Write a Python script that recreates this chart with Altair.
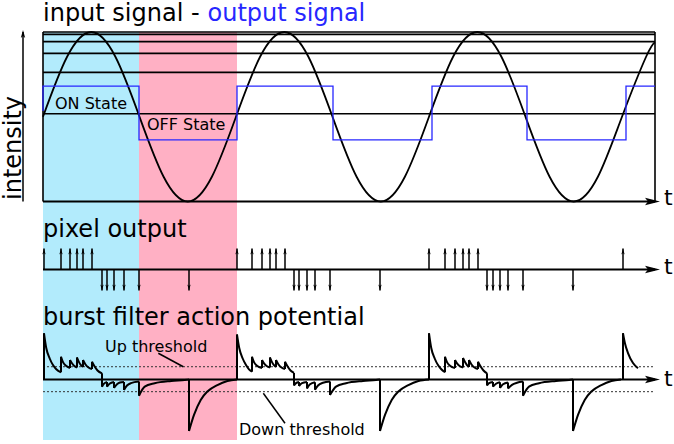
import altair as alt
import pandas as pd

# ---------------- data (time t: 0 = left edge of the panels, one input period = 193) -------------
SINE_T = [0, 24.1, 48.3, 72.4, 96.5, 120.6, 144.8, 168.9,
          193, 217.1, 241.3, 265.4, 289.5, 313.6, 337.8, 361.9,
          386, 410.1, 434.3, 458.4, 482.5, 506.6, 530.8, 554.9,
          579, 603.1, 612]
SINE_I = [0.5, 0.854, 1.0, 0.854, 0.5, 0.146, 0.0, 0.146,
          0.5, 0.854, 1.0, 0.854, 0.5, 0.146, 0.0, 0.146,
          0.5, 0.854, 1.0, 0.854, 0.5, 0.146, 0.0, 0.146,
          0.5, 0.854, 0.94]

OUT_T = [0, 0, 96, 194, 290, 389, 484, 583, 612]
OUT_I = [0.534, 0.681, 0.363, 0.681, 0.363, 0.681, 0.363, 0.681, 0.681]

LEVELS = [0.518, 0.762, 0.874, 0.943, 0.986, 1.0]
T_END = 612

BAND_T0 = [0, 96]
BAND_T1 = [96, 194]
BAND_NAME = ["ON", "OFF"]

UP_T = [1, 18, 27, 34, 40, 49, 194, 209, 219, 227, 233, 242,
        386, 402, 412, 420, 426, 435, 580]
DOWN_T = [59, 64, 71, 81, 96, 146, 251, 256, 264, 272, 287, 337,
          444, 450, 457, 465, 480, 530]

UP_THR = 0.213
DOWN_THR = -0.203

BURST_CURVES = [
    [(1, 0.77), (3.3, 0.52), (6.7, 0.35), (10, 0.24), (13.3, 0.17), (18, 0.12)],
    [(18, 0.38), (20, 0.29), (23, 0.23), (27, 0.19)],
    [(27, 0.325), (29, 0.27), (31, 0.23), (34, 0.2)],
    [(34, 0.367), (36, 0.29), (38, 0.24), (40, 0.21)],
    [(40, 0.325), (42.5, 0.25), (45.5, 0.2), (49, 0.175)],
    [(49, 0.297), (51.5, 0.22), (54.5, 0.15), (59, 0.103)],
    [(59, -0.12), (61, -0.07), (64, -0.04)],
    [(64, -0.12), (66.5, -0.07), (71, -0.04)],
    [(71, -0.14), (74, -0.08), (77, -0.05), (81, -0.04)],
    [(81, -0.175), (84, -0.1), (88, -0.06), (96, -0.035)],
    [(96, -0.27), (101.7, -0.12), (111.7, -0.063), (128.3, -0.025), (141.7, -0.008), (146, 0)],
    [(146, -0.858), (151, -0.59), (157.7, -0.34), (164.4, -0.2), (174.4, -0.092), (184.4, -0.025), (194, 0)],
    [(194, 0.75), (196.3, 0.52), (199.7, 0.35), (203, 0.24), (206, 0.17), (209, 0.13)],
    [(209, 0.38), (211, 0.29), (214, 0.23), (219, 0.19)],
    [(219, 0.325), (221, 0.27), (224, 0.22), (227, 0.2)],
    [(227, 0.367), (229, 0.29), (231, 0.24), (233, 0.21)],
    [(233, 0.325), (235.5, 0.25), (238.5, 0.2), (242, 0.175)],
    [(242, 0.297), (244.5, 0.22), (247.5, 0.15), (251, 0.11)],
    [(251, -0.1), (253, -0.06), (256, -0.04)],
    [(256, -0.11), (259, -0.06), (264, -0.04)],
    [(264, -0.15), (267, -0.08), (272, -0.045)],
    [(272, -0.17), (275, -0.1), (280, -0.055), (287, -0.035)],
    [(287, -0.26), (293, -0.12), (303, -0.063), (320, -0.025), (333, -0.008), (337, 0)],
    [(337, -0.858), (342, -0.59), (348.7, -0.34), (355.4, -0.2), (365.4, -0.092), (375.4, -0.025), (386, 0)],
    [(386, 0.77), (388.3, 0.52), (391.7, 0.35), (395, 0.24), (398.3, 0.17), (402, 0.12)],
    [(402, 0.38), (404, 0.29), (407, 0.23), (412, 0.19)],
    [(412, 0.325), (414, 0.27), (417, 0.22), (420, 0.2)],
    [(420, 0.36), (422, 0.29), (424, 0.24), (426, 0.21)],
    [(426, 0.325), (428.5, 0.25), (431.5, 0.2), (435, 0.175)],
    [(435, 0.297), (437.5, 0.22), (440.5, 0.15), (444, 0.103)],
    [(444, -0.1), (446, -0.06), (450, -0.04)],
    [(450, -0.12), (453, -0.07), (457, -0.045)],
    [(457, -0.14), (460, -0.08), (465, -0.05)],
    [(465, -0.15), (469, -0.09), (474, -0.055), (480, -0.035)],
    [(480, -0.27), (486, -0.12), (496, -0.063), (513, -0.025), (526, -0.008), (530, 0)],
    [(530, -0.858), (535, -0.59), (541.7, -0.34), (548.4, -0.2), (558.4, -0.092), (568.4, -0.025), (578, 0)],
    [(580, 0.77), (582, 0.6), (585, 0.44), (590, 0.275), (595, 0.187)],
]

# ---------------- scales ----------------
FONT = "DejaVu Sans"
BLUE = "#2727ff"
XS = alt.Scale(domain=[0, 613], range=[43, 656], nice=False, zero=False)
Y_TOP = alt.Scale(domain=[0, 1], range=[201.5, 32], nice=False, zero=False)
Y_PIX = alt.Scale(domain=[-1, 1], range=[290.5, 248.5], nice=False, zero=False)
Y_BUR = alt.Scale(domain=[-1, 1], range=[439.5, 319.5], nice=False, zero=False)

ARROW_R = "M1,0 L-1,-0.5 L-0.6,0 L-1,0.5 Z"
ARROW_U = "M0,-1 L-0.55,1 L0,0.5 L0.55,1 Z"
ARROW_D = "M0,1 L-0.55,-1 L0,-0.5 L0.55,-1 Z"


def X(f):
    return alt.X(f, type="quantitative", scale=XS, axis=None)


def Y(f, sc):
    return alt.Y(f, type="quantitative", scale=sc, axis=None)


def label(text, x, y, size, color="black", angle=0, align="left"):
    props = dict(text=text, font=FONT, fontSize=size, color=color, align=align,
                 baseline="alphabetic")
    if angle:
        props["angle"] = angle
    return alt.Chart(pd.DataFrame({"a": [0]})).mark_text(**props).encode(
        x=alt.value(x), y=alt.value(y))


# ---------------- tables ----------------
bands = pd.DataFrame({"t0": BAND_T0, "t1": BAND_T1, "state": BAND_NAME})
sine = pd.DataFrame({"t": SINE_T, "I": SINE_I, "k": range(len(SINE_T))})
out = pd.DataFrame({"t": OUT_T, "I": OUT_I, "k": range(len(OUT_T))})
levels = pd.DataFrame({"t0": 0, "t1": T_END, "I": LEVELS})
verticals = pd.DataFrame({"t": [0, T_END], "lo": 0, "hi": 1})
axis_line = pd.DataFrame({"t0": [0], "t1": [T_END], "v": [0]})
arrow_tip = pd.DataFrame({"t": [609.5], "v": [0]})
ups = pd.DataFrame({"t": UP_T, "base": 0, "tip": 1})
downs = pd.DataFrame({"t": DOWN_T, "base": 0, "tip": -1})
thr = pd.DataFrame({"t0": 0, "t1": T_END, "v": [UP_THR, DOWN_THR]})

rows, jumps = [], []
prev_end = None
for i, curve in enumerate(BURST_CURVES):
    t0, v0 = curve[0]
    vb = prev_end[1] if (prev_end is not None and abs(prev_end[0] - t0) < 1e-9) else 0
    jumps.append({"t": t0, "v0": vb, "v1": v0})
    for k, (t, v) in enumerate(curve):
        rows.append({"seg": i, "k": k, "t": t, "v": v})
    prev_end = curve[-1]
burst = pd.DataFrame(rows)
burst_jumps = pd.DataFrame(jumps)

# ---------------- layers ----------------
band_layer = alt.Chart(bands).mark_rect().encode(
    x=X("t0"), x2="t1", y=alt.value(32), y2=alt.value(440),
    color=alt.Color("state:N", scale=alt.Scale(domain=["ON", "OFF"],
                                               range=["#b2ebfc", "#ffb0c4"]), legend=None))

level_layer = alt.Chart(levels).mark_rule(color="black", strokeWidth=1.6).encode(
    x=X("t0"), x2="t1", y=Y("I", Y_TOP))
vert_layer = alt.Chart(verticals).mark_rule(color="black", strokeWidth=1.6).encode(
    x=X("t"), y=Y("lo", Y_TOP), y2="hi")
top_axis = alt.Chart(axis_line).mark_rule(color="black", strokeWidth=2).encode(
    x=X("t0"), x2="t1", y=Y("v", Y_TOP))
top_arrow = alt.Chart(arrow_tip).mark_point(shape=ARROW_R, size=225, filled=True,
                                            color="black", opacity=1).encode(
    x=X("t"), y=Y("v", Y_TOP))

sine_layer = alt.Chart(sine).mark_line(color="black", strokeWidth=1.8, interpolate="natural").encode(
    x=X("t"), y=Y("I", Y_TOP), order="k:Q")
out_layer = alt.Chart(out).mark_line(color=BLUE, strokeWidth=1.3, interpolate="step-after").encode(
    x=X("t"), y=Y("I", Y_TOP), order="k:Q")

# intensity arrow (left)
int_arrow_line = alt.Chart(pd.DataFrame({"t": [-20], "lo": [0], "hi": [1.0]})).mark_rule(
    color="black", strokeWidth=1.5).encode(x=X("t"), y=Y("lo", Y_TOP), y2="hi")
int_arrow_head = alt.Chart(pd.DataFrame({"t": [-20], "v": [1.012]})).mark_point(
    shape=ARROW_U, size=64, filled=True, color="black", opacity=1, yOffset=4).encode(
    x=X("t"), y=Y("v", Y_TOP))

# pixel output
pix_axis = alt.Chart(axis_line).mark_rule(color="black", strokeWidth=2).encode(
    x=X("t0"), x2="t1", y=Y("v", Y_PIX))
pix_arrow = alt.Chart(arrow_tip).mark_point(shape=ARROW_R, size=225, filled=True,
                                            color="black", opacity=1).encode(
    x=X("t"), y=Y("v", Y_PIX))
up_stem = alt.Chart(ups).mark_rule(color="black", strokeWidth=1.5).encode(
    x=X("t"), y=Y("base", Y_PIX), y2="tip")
up_head = alt.Chart(ups).mark_point(shape=ARROW_U, size=36, filled=True, color="black",
                                    opacity=1, yOffset=3).encode(x=X("t"), y=Y("tip", Y_PIX))
down_stem = alt.Chart(downs).mark_rule(color="black", strokeWidth=1.5).encode(
    x=X("t"), y=Y("base", Y_PIX), y2="tip")
down_head = alt.Chart(downs).mark_point(shape=ARROW_D, size=36, filled=True, color="black",
                                        opacity=1, yOffset=-3).encode(x=X("t"), y=Y("tip", Y_PIX))

# burst filter
thr_layer = alt.Chart(thr).mark_rule(color="#333333", strokeWidth=1, strokeDash=[2, 2]).encode(
    x=X("t0"), x2="t1", y=Y("v", Y_BUR))
bur_axis = alt.Chart(axis_line).mark_rule(color="black", strokeWidth=2).encode(
    x=X("t0"), x2="t1", y=Y("v", Y_BUR))
bur_arrow = alt.Chart(arrow_tip).mark_point(shape=ARROW_R, size=225, filled=True,
                                            color="black", opacity=1).encode(
    x=X("t"), y=Y("v", Y_BUR))
bur_line = alt.Chart(burst).mark_line(color="black", strokeWidth=2, interpolate="monotone").encode(
    x=X("t"), y=Y("v", Y_BUR), detail="seg:N", order="k:Q")
bur_jump = alt.Chart(burst_jumps).mark_rule(color="black", strokeWidth=2).encode(
    x=X("t"), y=Y("v0", Y_BUR), y2="v1")
leaders = alt.Chart(pd.DataFrame({"ta": [115.3, 220.3], "tb": [140.3, 242],
                                  "va": [0.437, -0.23], "vb": [0.213, -0.73]})).mark_rule(
    color="black", strokeWidth=1.5).encode(x=X("ta"), x2="tb", y=Y("va", Y_BUR), y2="vb")

texts = [
    label("input signal - ", 43, 20.5, 24),
    label("output signal", 207.5, 20.5, 24, BLUE),
    label("intensity", 21, 200, 24, angle=270),
    label("pixel output", 43, 237, 24),
    label("burst filter action potential", 43, 325, 24),
    label("t", 664, 205, 22),
    label("t", 664, 274, 22),
    label("t", 664, 386, 22),
    label("ON State", 55, 109, 16),
    label("OFF State", 147, 130, 16),
    label("Up threshold", 105, 352, 16),
    label("Down threshold", 239, 435, 16),
]

chart = alt.layer(
    band_layer, level_layer, vert_layer, sine_layer, out_layer, top_axis, top_arrow,
    int_arrow_line, int_arrow_head,
    pix_axis, pix_arrow, up_stem, up_head, down_stem, down_head,
    thr_layer, bur_axis, bur_arrow, bur_line, bur_jump, leaders,
    *texts
).resolve_scale(y="independent").properties(
    width=674, height=444, padding=0, autosize=alt.AutoSizeParams(type="none"),
    background="white"
).configure_view(stroke=None)

chart.save("out.html", embed_options={"renderer": "svg", "actions": False})
